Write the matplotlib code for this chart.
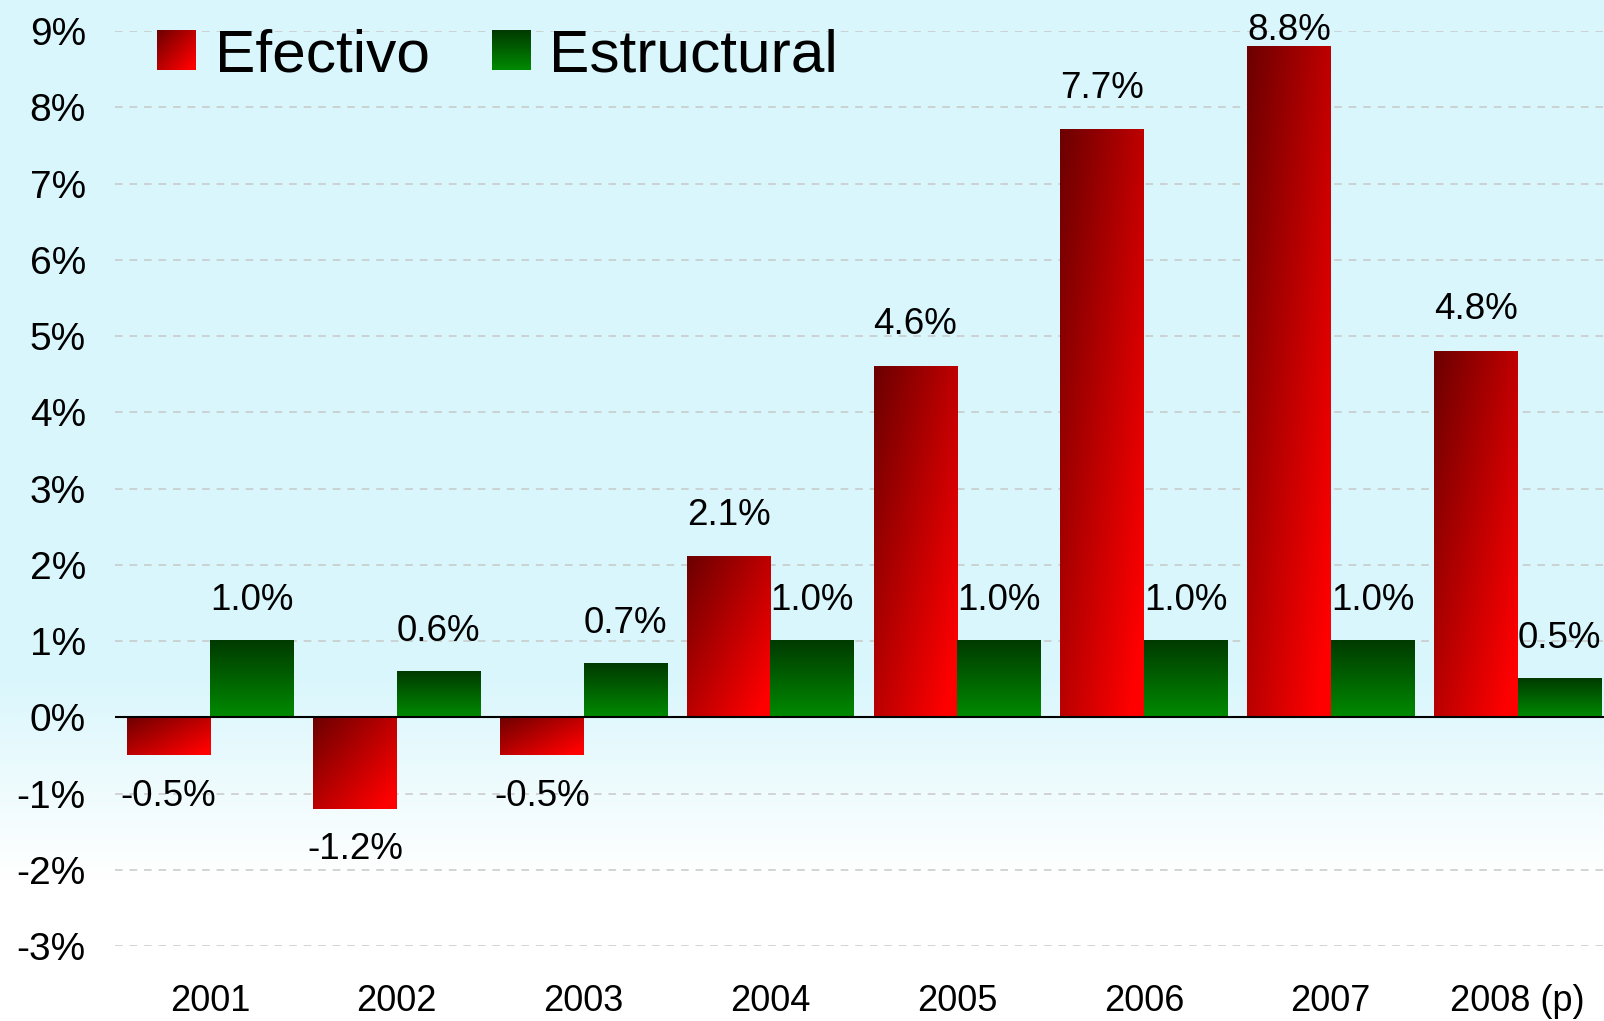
import numpy as np
import matplotlib
matplotlib.use('Agg')
import matplotlib.pyplot as plt
from matplotlib.legend_handler import HandlerBase
from matplotlib.image import BboxImage
from matplotlib.transforms import Bbox, TransformedBbox
from matplotlib.patches import Rectangle

plt.rcParams['font.family'] = ['Liberation Sans', 'DejaVu Sans']

# %% data
years = ['2001', '2002', '2003', '2004', '2005', '2006', '2007', '2008 (p)']
efectivo = [-0.5, -1.2, -0.5, 2.1, 4.6, 7.7, 8.8, 4.8]
estructural = [1.0, 0.6, 0.7, 1.0, 1.0, 1.0, 1.0, 0.5]
yticks = [-3, -2, -1, 0, 1, 2, 3, 4, 5, 6, 7, 8, 9]

# %% gradients
n = 120
u = np.linspace(0, 1, n)[None, :]   # left -> right
v = np.linspace(0, 1, n)[:, None]   # top -> bottom
red_img = np.zeros((n, n, 3))
red_img[..., 0] = np.clip((108 + 82 * u + 78 * v) / 255, 0, 1)
green_img = np.zeros((n, n, 3))
green_img[..., 1] = np.clip((58 + 80 * v) / 255, 0, 1) * np.ones((1, n))

bg_top = np.array([0.85, 0.966, 0.99])
yy = np.linspace(0, 1, 400)  # 0 top, 1 bottom
t = np.clip((yy - 0.66) / 0.2, 0, 1)[:, None]
bg_img = (bg_top[None, :] * (1 - t) + np.ones(3)[None, :] * t)[:, None, :]


class GradHandler(HandlerBase):
    def __init__(self, img):
        super().__init__()
        self.img = img

    def create_artists(self, legend, orig_handle, xdescent, ydescent,
                       width, height, fontsize, trans):
        bb = Bbox.from_bounds(-xdescent, -ydescent, width, height)
        im = BboxImage(TransformedBbox(bb, trans), interpolation='bilinear')
        im.set_data(self.img)
        return [im]


# %% figure
fig = plt.figure(figsize=(16.04, 10.21), dpi=100)
bg_ax = fig.add_axes([0, 0, 1, 1], zorder=-10)
bg_ax.imshow(bg_img, aspect='auto', extent=(0, 1, 0, 1), origin='upper')
bg_ax.axis('off')

ax = fig.add_axes([115 / 1604, 75 / 1021, 1 - 115 / 1604, (990 - 75) / 1021])
ax.patch.set_alpha(0)

x = np.arange(len(years))
w = 0.447
bars_e = ax.bar(x - w / 2, efectivo, w, color='none', zorder=2)
bars_s = ax.bar(x + w / 2, estructural, w, color='none', zorder=2)

for bars, img in [(bars_e, red_img), (bars_s, green_img)]:
    for b in bars:
        x0, y0 = b.get_x(), b.get_y()
        x1, y1 = x0 + b.get_width(), y0 + b.get_height()
        bottom, top = min(y0, y1), max(y0, y1)
        ax.imshow(img, extent=(x0, x1, bottom, top), origin='upper',
                  aspect='auto', interpolation='bilinear', zorder=2)

ax.set_aspect('auto')
ax.set_xlim(-0.509, 7.463)
ax.set_ylim(-3, 9)

ax.axhline(0, color='black', lw=1.5, zorder=4)
ax.set_yticks(yticks)
ax.set_yticklabels([f'{v}%' for v in yticks])
ax.set_xticks(x)
ax.set_xticklabels(years)
ax.tick_params(axis='y', length=0, pad=21, labelsize=28)
ax.tick_params(axis='x', length=0, pad=27, labelsize=26)
ax.yaxis.grid(True, linestyle=(0, (5, 4.5)), color='#c8c8c8', linewidth=1.1, zorder=0)
ax.set_axisbelow(True)
for s in ax.spines.values():
    s.set_visible(False)

# value labels
for xi, val in zip(x - w / 2, efectivo):
    if val >= 0:
        off = 30 if val < 8.5 else 11
    else:
        off = -29.5
    ax.annotate(f'{val:.1f}%', (xi, val), xytext=(0, off), textcoords='offset points',
                ha='center', va='center', fontsize=26.5, zorder=5)
for xi, val in zip(x + w / 2, estructural):
    ax.annotate(f'{val:.1f}%', (xi, val), xytext=(0, 29), textcoords='offset points',
                ha='center', va='center', fontsize=26.5, zorder=5)

h1 = Rectangle((0, 0), 1, 1)
h2 = Rectangle((0, 0), 1, 1)
fig.legend([h1, h2], ['Efectivo', 'Estructural'], ncol=2,
           handler_map={h1: GradHandler(red_img), h2: GradHandler(green_img)},
           loc='center left', bbox_to_anchor=(157 / 1604, 1 - 56 / 1021),
           frameon=False, fontsize=43.5, borderpad=0, borderaxespad=0,
           handlelength=0.645, handleheight=0.63, handletextpad=0.31,
           columnspacing=1.03)

fig.savefig('out.png', dpi=100)
